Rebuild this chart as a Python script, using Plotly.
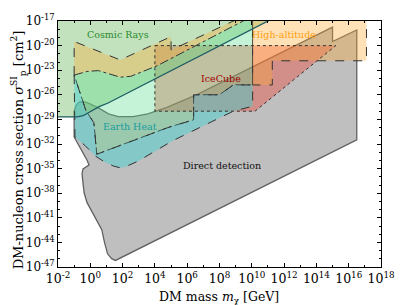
import plotly.graph_objects as go

# All values are log10(m_chi / GeV) and log10(sigma / cm^2)
# Cosmic-ray bound (solid dark line, excluded above)
cr_logm = [-2.5, -0.8, -0.45, -0.2, 0.2, 0.55, 1.1, 11.5]
cr_logs = [-28.7, -28.7, -28.55, -28.25, -27.85, -27.45, -27.0, -16.5]

# olive band (dashed upper boundary)
band_top_logm = [-1.0, -1.0, 1.85, 5.0, 5.0, 9.4]
band_top_logs = [-23.6, -19.5, -21.75, -18.9, -20.55, -16.5]

# mint region, dash-dot upper boundary
mint_top_logm = [-1.0, -0.2, 0.5, 1.25, 1.85, 2.5, 3.1, 4.15, 9.95]
mint_top_logs = [-23.6, -23.15, -23.05, -23.5, -23.85, -23.75, -23.3, -22.45, -16.5]
# remaining boundary of mint region (right edge, staircase, left edge)
mint_rest_logm = [10.05, 10.05, 8.85, 8.0, 6.4, 6.4, 4.8, 0.4, 0.22, -0.26, -0.5]
mint_rest_logs = [-16.5, -24.8, -24.8, -26.0, -26.0, -29.05, -30.0, -33.25, -29.4, -28.0, -26.55]

# Earth heat lower boundary
eh_low_logm = [-1.0, -0.95, -0.32, 0.34, 0.9, 1.45, 1.85, 2.15, 2.95, 5.1, 8.85, 10.05]
eh_low_logs = [-23.6, -31.15, -32.2, -33.5, -34.2, -34.7, -34.9, -34.8, -34.1, -31.6, -28.0, -27.4]

# direct detection
dd_logm = [-1.0, -1.0, -0.87, -0.7, -0.45, -0.08, 0.53, 1.13, 1.74, 2.65, 3.56, 4.78, 6.6,
           15.0, 15.0, 16.5, 16.5, 1.56, 1.32, 1.07, 0.89, 0.71, -0.2, -0.38, -0.45, -0.51,
           -0.45, -0.08, -0.2, -0.51, -0.75]
dd_logs = [-31.15, -28.0, -27.27, -26.92, -26.8, -27.04, -27.62, -28.33, -28.67, -28.67, -28.33,
           -27.51, -25.98, -17.75, -19.5, -18.1, -31.5, -46.2, -45.98, -45.39, -44.09, -42.45,
           -39.15, -37.98, -36.8, -35.62, -35.04, -34.56, -33.98, -32.92, -31.98]

# IceCube
ic_logm = [4.0, 15.2, 10.2, 4.0]
ic_logs = [-20.0, -20.0, -28.0, -28.0]

# High-altitude
ha_logm = [10.05, 17.1, 17.1, 11.27, 11.27, 10.05]
ha_logs = [-16.5, -16.5, -21.85, -21.85, -24.8, -24.8]

x_tick_exp = list(range(-2, 19, 2))
y_tick_exp = list(range(-47, -16, 3))

labels = ["Cosmic Rays", "High-altitude", "IceCube", "Earth Heat", "Direct detection"]
label_logm = [1.74, 12.0, 8.12, 2.47, 8.18]
label_logs = [-18.68, -18.68, -23.98, -29.86, -34.68]
label_colors = ["#2a8a2a", "#ffa010", "#a00000", "#1a9e9e", "#111111"]

x_title = "DM mass <i>m</i><sub>χ</sub> [GeV]"
y_title = "DM-nucleon cross section <i>σ</i><sup>SI</sup><sub>p</sub> [cm<sup>2</sup>]"


def p(v):
    return [10 ** a for a in v]


fig = go.Figure()


def poly(lm, ls, fill, line_color="rgba(0,0,0,0)", dash="solid", width=1.0):
    fig.add_trace(go.Scatter(x=p(lm + lm[:1]), y=p(ls + ls[:1]), mode="lines", fill="toself",
                             fillcolor=fill, line=dict(color=line_color, dash=dash, width=width),
                             hoverinfo="skip"))


def line(lm, ls, color, dash="solid", width=1.0):
    fig.add_trace(go.Scatter(x=p(lm), y=p(ls), mode="lines",
                             line=dict(color=color, dash=dash, width=width), hoverinfo="skip"))


# direct detection
poly(dd_logm, dd_logs, "rgba(128,128,128,0.5)", "#606060", "solid", 1.3)
# IceCube (fill under the green regions)
poly(ic_logm, ic_logs, "rgba(235,75,60,0.42)")
# cosmic rays
poly(cr_logm + [-2.5], cr_logs + [-16.5], "rgba(120,190,110,0.45)")
# olive band
poly(band_top_logm + mint_top_logm[::-1], band_top_logs + mint_top_logs[::-1],
     "rgba(255,170,50,0.35)")
# mint region
poly(mint_top_logm + mint_rest_logm, mint_top_logs + mint_rest_logs,
     "rgba(90,220,140,0.35)", "#333333", "dashdot", 1.0)
# earth heat
poly(eh_low_logm + mint_rest_logm[1:], eh_low_logs + mint_rest_logs[1:],
     "rgba(60,210,210,0.45)", "#333333", "dash", 1.0)
# high altitude
poly(ha_logm, ha_logs, "rgba(255,170,50,0.35)", "#333333", "dash", 1.0)
# boundary lines
line(ic_logm + ic_logm[:1], ic_logs + ic_logs[:1], "#333333", "dot", 1.0)
line(band_top_logm, band_top_logs, "#333333", "dash", 1.0)
line(cr_logm, cr_logs, "#1d5c63", "solid", 1.3)

for t, xm, ys, c in zip(labels, label_logm, label_logs, label_colors):
    fig.add_annotation(x=xm, y=ys, text=t, showarrow=False,
                       font=dict(family="DejaVu Serif", size=9.5, color=c))

# axis titles placed in paper coordinates
fig.add_annotation(xref="paper", yref="paper", x=0.497, y=-0.122, text=x_title,
                   showarrow=False, xanchor="center", yanchor="middle",
                   font=dict(family="DejaVu Serif", size=12.5, color="black"))
fig.add_annotation(xref="paper", yref="paper", x=-0.121, y=0.478, text=y_title,
                   showarrow=False, xanchor="center", yanchor="middle", textangle=-90,
                   font=dict(family="DejaVu Serif", size=13, color="black"))

fig.update_layout(
    width=407, height=305,
    margin=dict(l=58, r=19, t=12, b=38),
    plot_bgcolor="white", paper_bgcolor="white",
    showlegend=False,
    font=dict(family="DejaVu Serif", size=12, color="black"),
)
fig.update_xaxes(
    type="log", range=[-2, 18],
    tickvals=[10 ** k for k in x_tick_exp],
    ticktext=[f"10<sup>{k}</sup>" for k in x_tick_exp],
    ticks="inside", ticklen=4, tickcolor="black", ticklabeloverflow="allow",
    showline=True, linecolor="black", linewidth=1, mirror="allticks",
    showgrid=False, zeroline=False,
    minor=dict(tickvals=[10 ** k for k in range(-1, 18, 2)], ticks="inside", ticklen=2,
               tickcolor="black", showgrid=False),
    tickfont=dict(size=12.5),
)
fig.update_yaxes(
    type="log", range=[-47, -17],
    tickvals=[10 ** k for k in y_tick_exp],
    ticktext=[f"10<sup>{k}</sup>" for k in y_tick_exp],
    ticks="inside", ticklen=4, tickcolor="black", ticklabeloverflow="allow",
    showline=True, linecolor="black", linewidth=1, mirror="allticks",
    showgrid=False, zeroline=False,
    minor=dict(tickvals=[10 ** k for k in range(-46, -17) if (k + 47) % 3 != 0], ticks="inside",
               ticklen=2, tickcolor="black", showgrid=False),
    tickfont=dict(size=12),
)

fig.write_html("out.html", config={"displayModeBar": False},
               post_script="document.body.style.margin='0';document.body.style.overflow='hidden';")
